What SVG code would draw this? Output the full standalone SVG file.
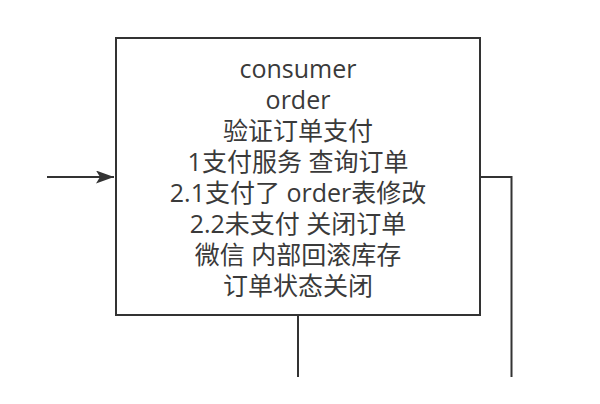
<svg xmlns="http://www.w3.org/2000/svg" width="600" height="404" viewBox="0 0 600 404">
<style>
.edge{fill:none;stroke:#333;stroke-width:2}
.box{fill:#fff;stroke:#333;stroke-width:2}
.lbl{font-family:"Open Sans","Noto Sans CJK SC",sans-serif;font-size:25px;fill:#3a3a3a;text-anchor:middle}
</style>
<defs>
<marker id="arr" markerUnits="userSpaceOnUse" markerWidth="20" markerHeight="14" refX="18" refY="6.5" orient="auto">
<path d="M0,0 L18,6.5 L0,13 L4,6.5 Z" fill="#333"/>
</marker>
</defs>
<rect width="600" height="404" fill="#fff"/>
<g id="connectors">
<path class="edge" d="M47,177 L114,177" marker-end="url(#arr)"/>
<path class="edge" d="M480,177 L511.5,177 L511.5,377"/>
<path class="edge" d="M298,315 L298,377"/>
</g>
<g id="node-consumer">
<rect class="box" x="116" y="38" width="364" height="277"/>
<text class="lbl" x="298" y="78">consumer</text>
<text class="lbl" x="298" y="109">order</text>
<text class="lbl" x="298" y="140">验证订单支付</text>
<text class="lbl" x="298" y="171">1支付服务 查询订单</text>
<text class="lbl" x="298" y="202">2.1支付了 order表修改</text>
<text class="lbl" x="298" y="233">2.2未支付 关闭订单</text>
<text class="lbl" x="298" y="264">微信 内部回滚库存</text>
<text class="lbl" x="298" y="295">订单状态关闭</text>
</g>
</svg>
